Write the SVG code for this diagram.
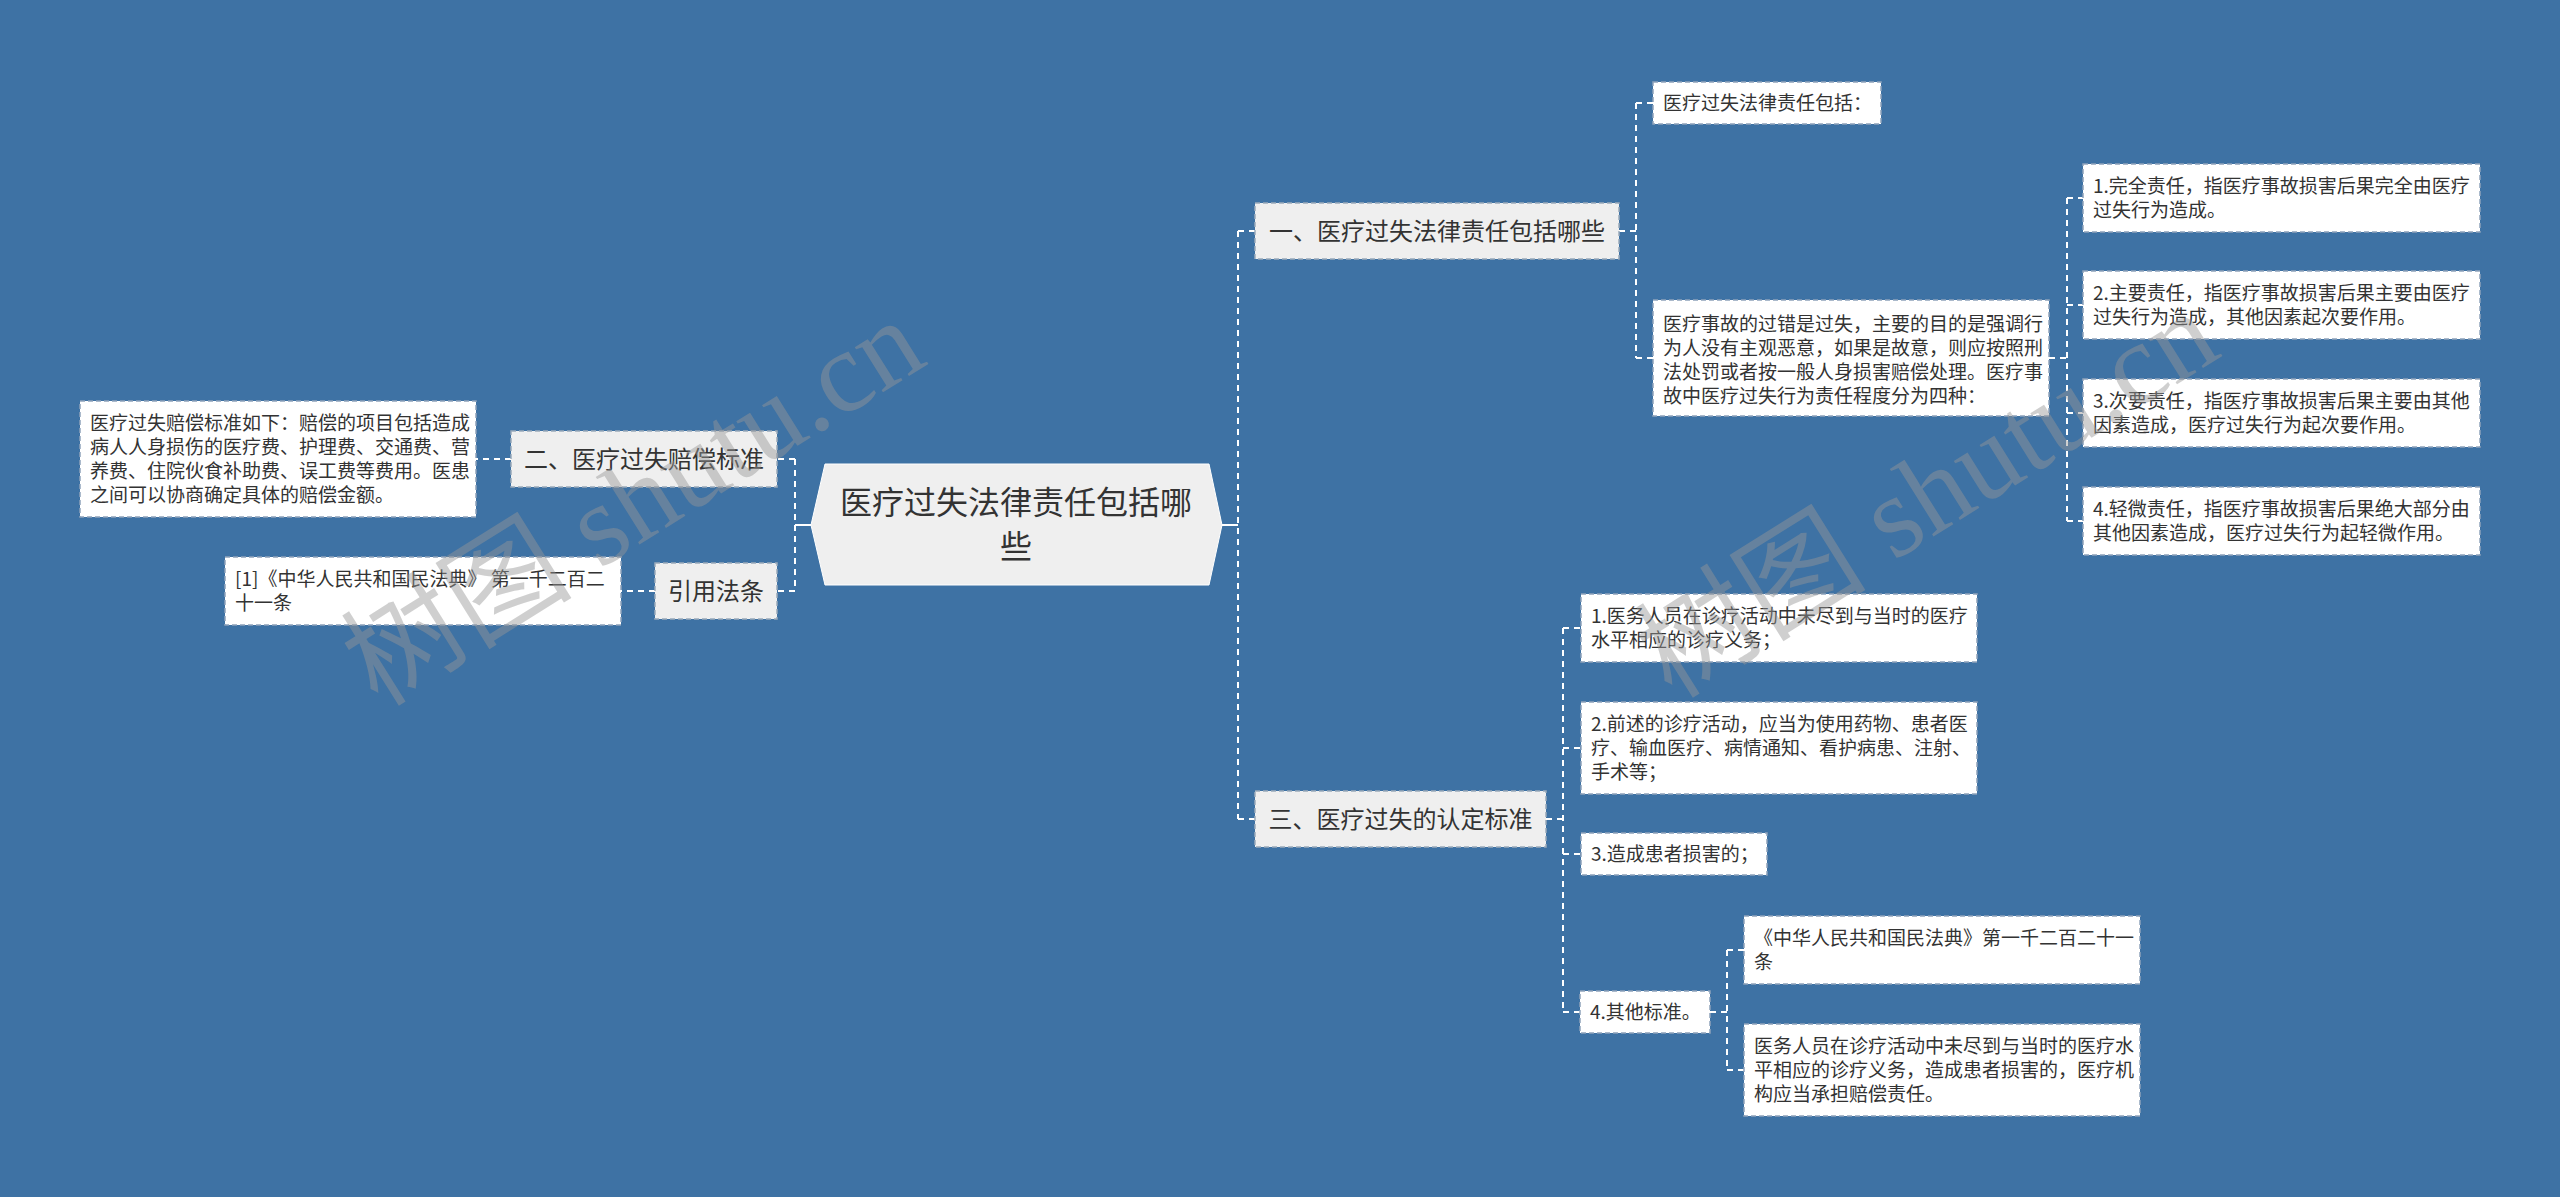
<svg xmlns="http://www.w3.org/2000/svg" width="2560" height="1197" viewBox="0 0 2560 1197">
<style>
.bg{fill:#3e72a4}
.l1{fill:#efefef;stroke:#9aaabb;stroke-width:1.5;stroke-dasharray:5 3}
.d{fill:#ffffff;stroke:#8fa3ba;stroke-width:1.5;stroke-dasharray:5 3}
.t{font-family:"Noto Sans CJK SC","Noto Sans",sans-serif;fill:#333333}
.t19{font-size:19px}
.t24{font-size:24px;text-anchor:middle}
.c{fill:none;stroke:#ffffff;stroke-width:2;stroke-dasharray:6 5}
.s{fill:none;stroke:#ffffff;stroke-width:2}
.wm{font-family:"Liberation Serif","Noto Sans CJK SC",serif;font-size:116px;fill:#979797;opacity:0.45}
</style>
<rect class="bg" x="0" y="0" width="2560" height="1197"/>

<g id="connectors">
  <path class="s" d="M811,525 H795"/>
  <path class="c" d="M795,459 V591"/>
  <path class="c" d="M795,459 H777 M795,591 H777"/>
  <path class="c" d="M511,459 H476"/>
  <path class="c" d="M655,591 H621"/>
  <path class="s" d="M1222,525 H1238"/>
  <path class="c" d="M1238,231 V819"/>
  <path class="c" d="M1238,231 H1255 M1238,819 H1255"/>
  <path class="c" d="M1619,231 H1636"/>
  <path class="c" d="M1636,103 V358"/>
  <path class="c" d="M1636,103 H1653 M1636,358 H1653"/>
  <path class="c" d="M2049,358 H2067"/>
  <path class="c" d="M2067,198 V521"/>
  <path class="c" d="M2067,198 H2083 M2067,305 H2083 M2067,413 H2083 M2067,521 H2083"/>
  <path class="c" d="M1546,819 H1563"/>
  <path class="c" d="M1563,628 V1012"/>
  <path class="c" d="M1563,628 H1581 M1563,748 H1581 M1563,854 H1581 M1563,1012 H1580"/>
  <path class="c" d="M1710,1012 H1727"/>
  <path class="c" d="M1727,950 V1070"/>
  <path class="c" d="M1727,950 H1744 M1727,1070 H1744"/>
</g>

<g id="root">
  <polygon points="811,525 825,464 1209,464 1222,525 1209,585 825,585" fill="#efefef" stroke="#ffffff" stroke-width="1"/>
  <text class="t" font-size="32" text-anchor="middle" x="1016" y="514">医疗过失法律责任包括哪</text>
  <text class="t" font-size="32" text-anchor="middle" x="1016" y="558">些</text>
</g>

<g id="n2">
  <rect class="l1" x="511" y="431" width="266" height="56"/>
  <text class="t t24" x="644" y="467.5">二、医疗过失赔偿标准</text>
</g>
<g id="n2a">
  <rect class="d" x="80" y="401" width="396" height="116"/>
  <text class="t t19" x="90" y="430">医疗过失赔偿标准如下：赔偿的项目包括造成</text>
  <text class="t t19" x="90" y="454">病人人身损伤的医疗费、护理费、交通费、营</text>
  <text class="t t19" x="90" y="478">养费、住院伙食补助费、误工费等费用。医患</text>
  <text class="t t19" x="90" y="502">之间可以协商确定具体的赔偿金额。</text>
</g>

<g id="nref">
  <rect class="l1" x="655" y="563" width="122" height="56"/>
  <text class="t t24" x="716" y="599.5">引用法条</text>
</g>
<g id="nrefa">
  <rect class="d" x="225" y="557" width="396" height="68"/>
  <text class="t t19" x="235" y="586">[1]《中华人民共和国民法典》 第一千二百二</text>
  <text class="t t19" x="235" y="610">十一条</text>
</g>

<g id="n1">
  <rect class="l1" x="1255" y="203" width="364" height="56"/>
  <text class="t t24" x="1437" y="239.5">一、医疗过失法律责任包括哪些</text>
</g>
<g id="n1a">
  <rect class="d" x="1653" y="82" width="228" height="42"/>
  <text class="t t19" x="1663" y="110">医疗过失法律责任包括：</text>
</g>
<g id="n1b">
  <rect class="d" x="1653" y="300" width="396" height="116"/>
  <text class="t t19" x="1663" y="331">医疗事故的过错是过失，主要的目的是强调行</text>
  <text class="t t19" x="1663" y="355">为人没有主观恶意，如果是故意，则应按照刑</text>
  <text class="t t19" x="1663" y="379">法处罚或者按一般人身损害赔偿处理。医疗事</text>
  <text class="t t19" x="1663" y="403">故中医疗过失行为责任程度分为四种：</text>
</g>
<g id="n1b1">
  <rect class="d" x="2083" y="164" width="397" height="68"/>
  <text class="t t19" x="2093" y="193">1.完全责任，指医疗事故损害后果完全由医疗</text>
  <text class="t t19" x="2093" y="217">过失行为造成。</text>
</g>
<g id="n1b2">
  <rect class="d" x="2083" y="271" width="397" height="68"/>
  <text class="t t19" x="2093" y="300">2.主要责任，指医疗事故损害后果主要由医疗</text>
  <text class="t t19" x="2093" y="324">过失行为造成，其他因素起次要作用。</text>
</g>
<g id="n1b3">
  <rect class="d" x="2083" y="379" width="397" height="68"/>
  <text class="t t19" x="2093" y="408">3.次要责任，指医疗事故损害后果主要由其他</text>
  <text class="t t19" x="2093" y="432">因素造成，医疗过失行为起次要作用。</text>
</g>
<g id="n1b4">
  <rect class="d" x="2083" y="487" width="397" height="68"/>
  <text class="t t19" x="2093" y="516">4.轻微责任，指医疗事故损害后果绝大部分由</text>
  <text class="t t19" x="2093" y="540">其他因素造成，医疗过失行为起轻微作用。</text>
</g>

<g id="n3">
  <rect class="l1" x="1255" y="791" width="291" height="56"/>
  <text class="t t24" x="1400.5" y="827.5">三、医疗过失的认定标准</text>
</g>
<g id="n3a">
  <rect class="d" x="1581" y="594" width="396" height="68"/>
  <text class="t t19" x="1591" y="623">1.医务人员在诊疗活动中未尽到与当时的医疗</text>
  <text class="t t19" x="1591" y="647">水平相应的诊疗义务；</text>
</g>
<g id="n3b">
  <rect class="d" x="1581" y="702" width="396" height="92"/>
  <text class="t t19" x="1591" y="731">2.前述的诊疗活动，应当为使用药物、患者医</text>
  <text class="t t19" x="1591" y="755">疗、输血医疗、病情通知、看护病患、注射、</text>
  <text class="t t19" x="1591" y="779">手术等；</text>
</g>
<g id="n3c">
  <rect class="d" x="1581" y="833" width="186" height="42"/>
  <text class="t t19" x="1591" y="861">3.造成患者损害的；</text>
</g>
<g id="n3d">
  <rect class="d" x="1580" y="991" width="130" height="42"/>
  <text class="t t19" x="1590" y="1019">4.其他标准。</text>
</g>
<g id="n3d1">
  <rect class="d" x="1744" y="916" width="396" height="68"/>
  <text class="t t19" x="1754" y="945">《中华人民共和国民法典》第一千二百二十一</text>
  <text class="t t19" x="1754" y="969">条</text>
</g>
<g id="n3d2">
  <rect class="d" x="1744" y="1024" width="396" height="92"/>
  <text class="t t19" x="1754" y="1053">医务人员在诊疗活动中未尽到与当时的医疗水</text>
  <text class="t t19" x="1754" y="1077">平相应的诊疗义务，造成患者损害的，医疗机</text>
  <text class="t t19" x="1754" y="1101">构应当承担赔偿责任。</text>
</g>

<g id="watermarks">
  <text class="wm" transform="translate(378,708) rotate(-32)">树图 shutu.cn</text>
  <text class="wm" transform="translate(1672,700) rotate(-32)">树图 shutu.cn</text>
</g>
</svg>
